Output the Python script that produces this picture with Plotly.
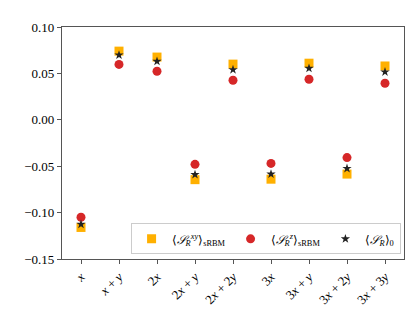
import plotly.graph_objects as go

categories = ["x", "x+y", "2x", "2x+y", "2x+2y", "3x", "3x+y", "3x+2y", "3x+3y"]
tick_labels = ["<i>x</i>", "<i>x</i> + <i>y</i>", "2<i>x</i>", "2<i>x</i> + <i>y</i>",
               "2<i>x</i> + 2<i>y</i>", "3<i>x</i>", "3<i>x</i> + <i>y</i>",
               "3<i>x</i> + 2<i>y</i>", "3<i>x</i> + 3<i>y</i>"]
s_xy = [-0.116, 0.074, 0.0676, -0.0645, 0.060, -0.064, 0.061, -0.0585, 0.058]
s_z = [-0.105, 0.0597, 0.0523, -0.048, 0.0426, -0.047, 0.0437, -0.0407, 0.0394]
s_0 = [-0.1126, 0.0698, 0.063, -0.059, 0.054, -0.0585, 0.0555, -0.0525, 0.0516]

xs = list(range(len(categories)))
font = "Liberation Serif"

fig = go.Figure()
fig.add_trace(go.Scatter(x=xs, y=s_xy, mode="markers",
                         marker=dict(symbol="square", size=9, color="#FFB000"),
                         name="⟨<i>𝒮</i><sub><i>R</i></sub><sup><i>xy</i></sup>⟩<sub>sRBM</sub>"))
fig.add_trace(go.Scatter(x=xs, y=s_z, mode="markers",
                         marker=dict(symbol="circle", size=9, color="#D62728"),
                         name="⟨<i>𝒮</i><sub><i>R</i></sub><sup><i>z</i></sup>⟩<sub>sRBM</sub>"))
fig.add_trace(go.Scatter(x=xs, y=s_0, mode="markers",
                         marker=dict(symbol="star", size=7, color="#222222"),
                         name="⟨<i>𝒮</i><sub><i>R</i></sub>⟩<sub>0</sub>"))

fig.update_layout(
    width=415, height=311,
    margin=dict(l=54, r=19, t=19, b=58),
    plot_bgcolor="white", paper_bgcolor="white",
    font=dict(family=font, size=12, color="black"),
    showlegend=True,
    legend=dict(orientation="h", x=0.99, y=0.02, xanchor="right", yanchor="bottom",
                bgcolor="rgba(255,255,255,0.8)", bordercolor="#cccccc", borderwidth=1,
                font=dict(size=12), itemwidth=30, tracegroupgap=0),
    xaxis=dict(range=[-0.5, 8.5], tickmode="array", tickvals=xs, ticktext=tick_labels,
               tickangle=-45, showgrid=False, zeroline=False, showline=True,
               linecolor="#555555", linewidth=1.2, mirror=True, ticks="outside",
               ticklen=4, tickcolor="#555555", tickfont=dict(size=13)),
    yaxis=dict(range=[-0.15, 0.10], tickvals=[-0.15, -0.10, -0.05, 0.0, 0.05, 0.10],
               ticktext=["−0.15", "−0.10", "−0.05", "0.00", "0.05", "0.10"],
               showgrid=False, zeroline=False, showline=True,
               linecolor="#555555", linewidth=1.2, mirror=True, ticks="outside",
               ticklen=4, tickcolor="#555555", tickfont=dict(size=13)),
)
fig.write_html("out.html")
